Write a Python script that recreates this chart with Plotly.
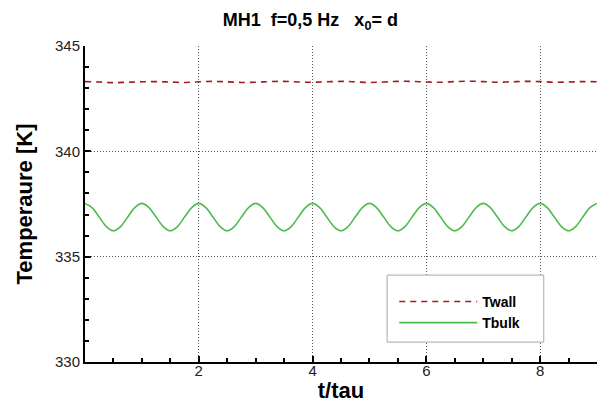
import plotly.graph_objects as go

# ---- data ----
t_bulk = [i * 0.125 for i in range(73)]
T_bulk = [
    337.53, 337.33, 336.88, 336.43, 336.23, 336.43, 336.88, 337.33,
    337.53, 337.33, 336.88, 336.43, 336.23, 336.43, 336.88, 337.33,
    337.53, 337.33, 336.88, 336.43, 336.23, 336.43, 336.88, 337.33,
    337.53, 337.33, 336.88, 336.43, 336.23, 336.43, 336.88, 337.33,
    337.53, 337.33, 336.88, 336.43, 336.23, 336.43, 336.88, 337.33,
    337.53, 337.33, 336.88, 336.43, 336.23, 336.43, 336.88, 337.33,
    337.53, 337.33, 336.88, 336.43, 336.23, 336.43, 336.88, 337.33,
    337.53, 337.33, 336.88, 336.43, 336.23, 336.43, 336.88, 337.33,
    337.53, 337.33, 336.88, 336.43, 336.23, 336.43, 336.88, 337.33,
    337.53,
]

t_wall = [i * 0.25 for i in range(37)]
T_wall = [
    343.31, 343.29, 343.26, 343.28, 343.30, 343.31, 343.29, 343.27,
    343.30, 343.32, 343.30, 343.27, 343.28, 343.31, 343.32, 343.29,
    343.28, 343.30, 343.32, 343.30, 343.27, 343.29, 343.32, 343.32,
    343.29, 343.28, 343.31, 343.33, 343.31, 343.28, 343.30, 343.32,
    343.31, 343.28, 343.29, 343.31, 343.30,
]

x_ticks = [2, 4, 6, 8]
y_ticks = [330, 335, 340, 345]

title_text = "MH1  f=0,5 Hz   x<sub>0</sub>= d"
x_title = "t/tau"
y_title = "Temperaure [K]"

FONT = "Liberation Sans, Arial, sans-serif"

fig = go.Figure()
fig.add_trace(go.Scatter(
    x=t_wall, y=T_wall, name="<b>Twall</b>", mode="lines",
    line=dict(color="#a31c1c", width=1.6, dash="6px,5px", shape="spline"),
))
fig.add_trace(go.Scatter(
    x=t_bulk, y=T_bulk, name="<b>Tbulk</b>", mode="lines",
    line=dict(color="#4cbc4c", width=1.6, shape="spline"),
))

axis_common = dict(
    showline=True, linecolor="black", linewidth=2,
    ticks="inside", tickcolor="black", tickwidth=1.5, ticklen=6,
    showgrid=True, gridcolor="#555555", gridwidth=1, griddash="1px,2px",
    zeroline=False, mirror=False, automargin=False,
    tickfont=dict(family=FONT, size=15, color="#222222"),
)

fig.update_xaxes(
    **axis_common,
    range=[0, 9], tickvals=x_ticks, ticklabelstandoff=-6,
    minor=dict(dtick=0.5, tick0=0, ticks="inside", ticklen=4, tickcolor="black", showgrid=False),
    title=dict(text="<b>" + x_title + "</b>", font=dict(family=FONT, size=22, color="black")),
)
fig.update_yaxes(
    **axis_common,
    range=[330, 345], tickvals=y_ticks,
    minor=dict(dtick=1, tick0=330, ticks="inside", ticklen=4, tickcolor="black", showgrid=False),
    title=dict(text="<b>" + y_title + "</b>", font=dict(family=FONT, size=22, color="black"), standoff=16),
)

# legend frame (white box with grey border)
fig.add_shape(
    type="rect", xref="paper", yref="paper",
    x0=0.590, x1=0.896, y0=0.063, y1=0.275,
    line=dict(color="#a8a8a8", width=1), fillcolor="white", layer="above",
)

fig.update_layout(
    width=605, height=403,
    margin=dict(l=85, r=8, t=46, b=41, autoexpand=False),
    paper_bgcolor="white", plot_bgcolor="white",
    title=dict(text="<b>" + title_text + "</b>", x=0.513, xanchor="center", y=0.95, yanchor="middle",
               font=dict(family=FONT, size=18, color="black")),
    showlegend=True,
    legend=dict(
        x=0.604, y=0.241, xanchor="left", yanchor="top",
        bgcolor="rgba(0,0,0,0)", borderwidth=0,
        font=dict(family=FONT, size=14, color="black"),
        itemwidth=78, tracegroupgap=0,
    ),
)

fig.write_html(
    "out.html",
    config={"displayModeBar": False},
    post_script="document.body.style.margin='0';document.body.style.padding='0';",
)
